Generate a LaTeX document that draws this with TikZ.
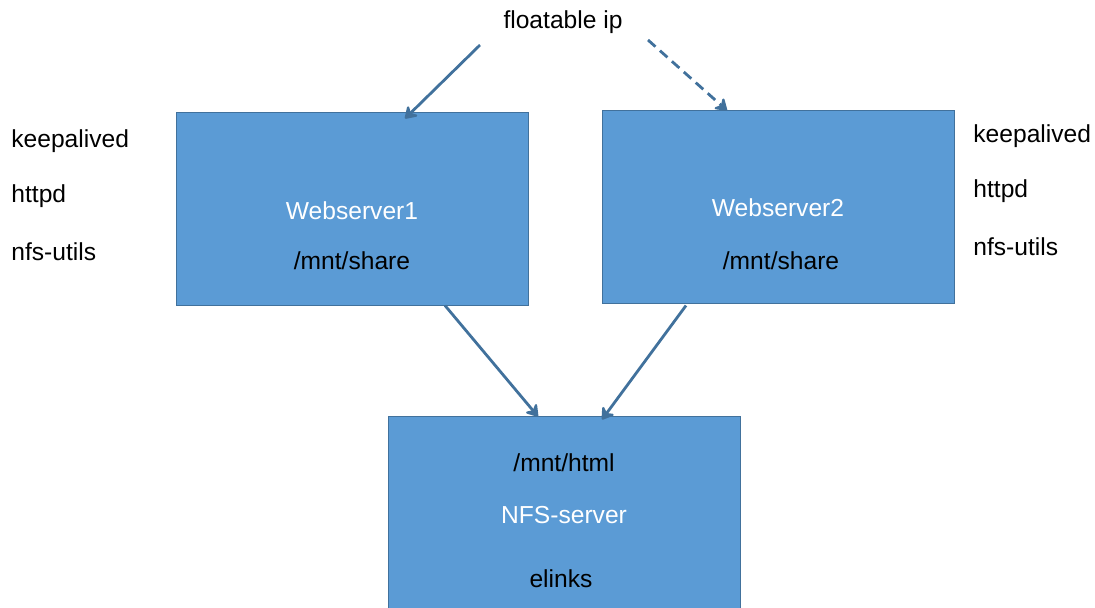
\documentclass[tikz,border=0pt]{standalone}
\usepackage{fontspec}
\setmainfont{Liberation Sans}
\usepackage{xcolor}
\usepackage{tikz}
\usetikzlibrary{arrows.meta}
\definecolor{boxfill}{HTML}{5B9BD5}
\definecolor{boxline}{HTML}{41719C}

\begin{document}
\begin{tikzpicture}[x=0.5pt, y=-0.5pt, font=\fontsize{12.3}{14}\selectfont, srv/.style = {draw=boxline, fill=boxfill, line width=0.5pt, minimum width=176pt, minimum height=96.5pt, inner sep=0pt}, txt/.style = {inner sep=0pt, anchor=west}, arr/.style = {draw=boxline, line width=1.4pt, -{Stealth[length=7pt,width=9pt,inset=2.5pt,round]}}]
\useasboundingbox (0,0) rectangle (1095,607);
\node[srv] (web1) at (352,208.5) {};
\node[srv] (web2) at (778,206.5) {};
\node[srv] (nfs) at (564,512.5) {};
\node (fip) at (563,22) {floatable ip};
\node[text=white] (w1name) at (352,211) {Webserver1};
\node (w1mnt) at (352,261) {/mnt/share};
\node[text=white] (w2name) at (778,208) {Webserver2};
\node (w2mnt) at (781,261) {/mnt/share};
\node (nfsmnt) at (564,463) {/mnt/html};
\node[text=white] (nfsname) at (564,515) {NFS-server};
\node (elinks) at (561,579) {elinks};
\node[txt] (ka1) at (11,141) {keepalived};
\node[txt] (ht1) at (11,196) {httpd};
\node[txt] (nf1) at (11,252) {nfs-utils};
\node[txt] (ka2) at (973,136) {keepalived};
\node[txt] (ht2) at (973,191) {httpd};
\node[txt] (nf2) at (973,247) {nfs-utils};
\coordinate (ipl) at (480,45);
\coordinate (ipr) at (648,40);
\draw[arr] (ipl) -- ([xshift=26.5pt,yshift=-3.5pt]web1.north);
\draw[arr, dash pattern=on 5pt off 3pt] (ipr) -- ([xshift=-25.5pt,yshift=-0.5pt]web2.north);
\draw[arr] ([xshift=46.5pt]web1.south) -- ([xshift=-13pt,yshift=-0.5pt]nfs.north);
\draw[arr] ([xshift=-46pt,yshift=-1pt]web2.south) -- ([xshift=19pt,yshift=-2pt]nfs.north);
\end{tikzpicture}
\end{document}
